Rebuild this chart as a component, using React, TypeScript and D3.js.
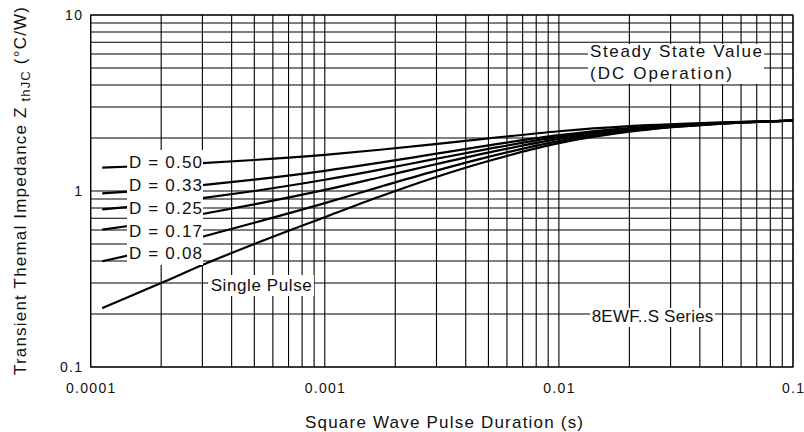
import * as React from 'react';
import { scaleLog, line, curveMonotoneX } from 'd3';

// pulse durations (s) where the curves were read
const durations = [0.000112, 0.00015, 0.0002, 0.0003, 0.0005, 0.001, 0.00172, 0.00282, 0.005, 0.01, 0.02, 0.05, 0.1];

// Zth values (°C/W) per duty cycle
const d050 = [1.358, 1.378, 1.40, 1.44, 1.50, 1.605, 1.715, 1.835, 1.99, 2.185, 2.335, 2.455, 2.51];
const d033 = [0.970, 0.996, 1.026, 1.08, 1.16, 1.301, 1.448, 1.609, 1.817, 2.078, 2.279, 2.44, 2.51];
const d025 = [0.787, 0.816, 0.85, 0.91, 1.0, 1.158, 1.322, 1.502, 1.735, 2.028, 2.253, 2.433, 2.51];
const d017 = [0.604, 0.637, 0.674, 0.74, 0.84, 1.014, 1.197, 1.396, 1.653, 1.977, 2.226, 2.425, 2.51];
const d008 = [0.399, 0.435, 0.476, 0.55, 0.66, 0.853, 1.056, 1.276, 1.562, 1.92, 2.196, 2.417, 2.51];
const single = [0.216, 0.255, 0.30, 0.38, 0.50, 0.71, 0.93, 1.17, 1.48, 1.87, 2.17, 2.41, 2.51];

const series = [d050, d033, d025, d017, d008, single];
const dLabels = ['D = 0.50', 'D = 0.33', 'D = 0.25', 'D = 0.17', 'D = 0.08'];

const xTicks = [0.0001, 0.001, 0.01, 0.1];
const xTickLabels = ['0.0001', '0.001', '0.01', '0.1'];
const yTicks = [0.1, 1, 10];
const yTickLabels = ['0.1', '1', '10'];

const W = 804;
const H = 432;
const margin = { top: 15, right: 11, bottom: 65, left: 90.7 };
const font = '"Liberation Sans", Arial, sans-serif';
const ink = '#111';

export default function App() {
    const x = scaleLog().domain([0.0001, 0.1]).range([margin.left, W - margin.right]);
    const y = scaleLog().domain([0.1, 10]).range([H - margin.bottom, margin.top]);

    const path = line<number>()
        .x((_, i) => x(durations[i]))
        .y((v) => y(v))
        .curve(curveMonotoneX);

    const gridX = x.ticks();
    const gridY = y.ticks();
    const x0 = x.range()[0], x1 = x.range()[1];
    const y0 = y.range()[0], y1 = y.range()[1];

    return (
        <div style={{ position: 'absolute', left: 0, top: 0 }}>
            <svg width={W} height={H} style={{ display: 'block', background: '#fff' }} fontFamily={font}>
                <g className="grid" stroke="#000" strokeWidth={1.1}>
                    {gridX.map((t) => (
                        <line key={'gx' + t} x1={x(t)} x2={x(t)} y1={y0} y2={y1} />
                    ))}
                    {gridY.map((t) => (
                        <line key={'gy' + t} x1={x0} x2={x1} y1={y(t)} y2={y(t)} />
                    ))}
                </g>
                <rect x={x0} y={y1} width={x1 - x0} height={y0 - y1} fill="none" stroke="#000" strokeWidth={1.1} />

                <g className="curves" fill="none" stroke="#000" strokeWidth={2.2}>
                    {series.map((s, i) => (
                        <path key={i} d={path(s) || ''} />
                    ))}
                </g>

                {/* label boxes blank the grid and curves below the text */}
                <g fill="#fff">
                    <rect x={127} y={150} width={76} height={115} />
                    <rect x={588} y={44} width={176} height={40} />
                    <rect x={208} y={275} width={106} height={21} />
                    <rect x={590} y={308} width={125} height={19} />
                </g>

                <g fill={ink} fontSize={17}>
                    {dLabels.map((l, i) => (
                        <text key={l} x={129} y={168.3 + i * 22.75} textLength={73} lengthAdjust="spacing">{l}</text>
                    ))}
                    <text x={590} y={57} textLength={172} lengthAdjust="spacing">Steady State Value</text>
                    <text x={590} y={79} textLength={142} lengthAdjust="spacing">(DC Operation)</text>
                    <text x={210.7} y={290.7} textLength={101} lengthAdjust="spacing">Single Pulse</text>
                    <text x={591.7} y={321.7} textLength={121.6} lengthAdjust="spacing">8EWF..S Series</text>
                </g>

                <g className="x-axis" fill={ink} fontSize={14} letterSpacing={1.3} textAnchor="middle">
                    {xTicks.map((t, i) => (
                        <text key={t} x={x(t) + 0.6} y={393}>{xTickLabels[i]}</text>
                    ))}
                </g>
                <g className="y-axis" fill={ink} fontSize={14} letterSpacing={1.3} textAnchor="end">
                    {yTicks.map((t, i) => (
                        <text key={t} x={83.3} y={y(t)} dy="0.36em">{yTickLabels[i]}</text>
                    ))}
                </g>

                <text x={305} y={428} fill={ink} fontSize={17} textLength={278} lengthAdjust="spacing">
                    Square Wave Pulse Duration (s)
                </text>
                <text transform="translate(25.5,191) rotate(-90)" textAnchor="middle" fill={ink} fontSize={17}
                    textLength={368} lengthAdjust="spacing">
                    Transient Themal Impedance Z
                    <tspan fontSize={13} dy={4}> thJC</tspan>
                    <tspan dy={-4}> (°C/W)</tspan>
                </text>
            </svg>
        </div>
    );
}
